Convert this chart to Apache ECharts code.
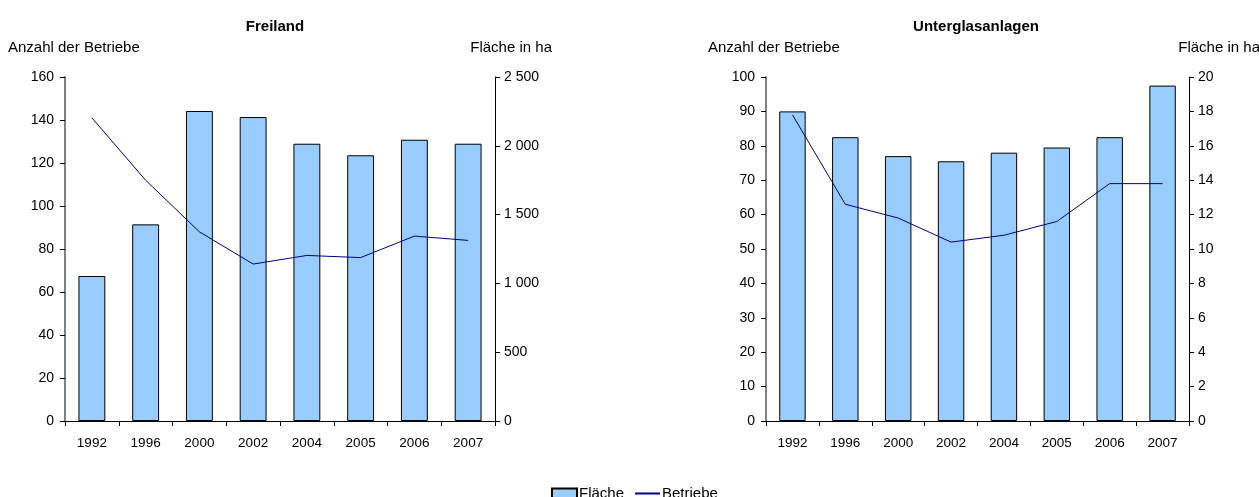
<!DOCTYPE html>
<html>
<head>
<meta charset="utf-8">
<script src="https://cdn.jsdelivr.net/npm/echarts@6/dist/echarts.min.js"></script>
<style>
  html, body { margin: 0; padding: 0; background: #fff; }
  #chart { width: 1259px; height: 497px; }
</style>
</head>
<body>
<div id="chart"></div>
<script>
// Jahre (Kategorien)
const jahre = ['1992', '1996', '2000', '2002', '2004', '2005', '2006', '2007']

// Freiland
const freilandFlaeche = [1054, 1429, 2253, 2209, 2015, 1931, 2044, 2015]
const freilandBetriebe = [141, 112, 88, 73, 77, 76, 86, 84]

// Unterglasanlagen
const glasFlaeche = [18.0, 16.5, 15.4, 15.1, 15.6, 15.9, 16.5, 19.5]
const glasBetriebe = [89, 63, 59, 52, 54, 58, 69, 69]

const font = 'Liberation Sans, Arial, sans-serif'
const barColor = '#99ccff'
const lineColor = '#000080'

const myChart = echarts.init(document.getElementById('chart'))

// gemeinsame Achsen-Einstellungen
function xAchse(gridIndex) {
    return {
        type: 'category',
        gridIndex: gridIndex,
        data: jahre,
        boundaryGap: true,
        axisLine: { lineStyle: { color: '#000', width: 1 } },
        axisTick: { show: true, length: 5, lineStyle: { color: '#000' } },
        axisLabel: { color: '#000', fontSize: 13.5, fontFamily: font, margin: 15 },
        splitLine: { show: false }
    }
}

function yAchse(gridIndex, position, max, interval, formatter) {
    return {
        type: 'value',
        gridIndex: gridIndex,
        position: position,
        min: 0,
        max: max,
        interval: interval,
        axisLine: { show: true, lineStyle: { color: position === 'left' ? '#808080' : '#000', width: position === 'left' ? 2 : 1 } },
        axisTick: { show: true, length: 5, lineStyle: { color: '#000' } },
        axisLabel: { color: '#000', fontSize: 14, fontFamily: font, margin: position === 'left' ? 11 : 9, formatter: formatter },
        splitLine: { show: false }
    }
}

// 2 500 statt 2500
function tausender(v) {
    return String(v).replace(/\B(?=(\d{3})+(?!\d))/g, ' ')
}

function text(x, y, str, align, size, bold) {
    return {
        type: 'text',
        x: x,
        y: y,
        style: {
            text: str,
            fill: '#000',
            font: (bold ? 'bold ' : '') + size + 'px ' + font,
            align: align,
            verticalAlign: 'middle'
        }
    }
}

myChart.setOption({
    animation: false,
    grid: [
        { left: 65, right: 764, top: 77, bottom: 76 },
        { left: 766, right: 70, top: 77, bottom: 76 }
    ],
    graphic: [
        text(275, 27, 'Freiland', 'center', 15, true),
        text(8, 48, 'Anzahl der Betriebe', 'left', 15),
        text(552, 48, 'Fläche in ha', 'right', 15),
        text(976, 27, 'Unterglasanlagen', 'center', 15, true),
        text(708, 48, 'Anzahl der Betriebe', 'left', 15),
        text(1260, 48, 'Fläche in ha', 'right', 15)
    ],
    legend: {
        bottom: -4,
        left: 551,
        padding: 0,
        itemWidth: 25,
        itemHeight: 10,
        itemGap: 10,
        textStyle: { color: '#000', fontSize: 15, fontFamily: font, padding: [0, 0, 0, -3] },
        data: [
            { name: 'Fläche', icon: 'rect' },
            { name: 'Betriebe', itemStyle: { opacity: 0 } }
        ]
    },
    xAxis: [xAchse(0), xAchse(1)],
    yAxis: [
        yAchse(0, 'left', 160, 20),
        yAchse(0, 'right', 2500, 500, tausender),
        yAchse(1, 'left', 100, 10),
        yAchse(1, 'right', 20, 2)
    ],
    series: [
        {
            name: 'Fläche',
            type: 'bar',
            xAxisIndex: 0,
            yAxisIndex: 1,
            barWidth: '50%',
            itemStyle: { color: barColor, borderColor: '#000', borderWidth: 1 },
            data: freilandFlaeche
        },
        {
            name: 'Betriebe',
            type: 'line',
            xAxisIndex: 0,
            yAxisIndex: 0,
            symbol: 'none',
            lineStyle: { color: lineColor, width: 1 },
            itemStyle: { color: lineColor },
            data: freilandBetriebe
        },
        {
            name: 'Fläche',
            type: 'bar',
            xAxisIndex: 1,
            yAxisIndex: 3,
            barWidth: '50%',
            itemStyle: { color: barColor, borderColor: '#000', borderWidth: 1 },
            data: glasFlaeche
        },
        {
            name: 'Betriebe',
            type: 'line',
            xAxisIndex: 1,
            yAxisIndex: 2,
            symbol: 'none',
            lineStyle: { color: lineColor, width: 1 },
            itemStyle: { color: lineColor },
            data: glasBetriebe
        }
    ]
})
</script>
</body>
</html>
